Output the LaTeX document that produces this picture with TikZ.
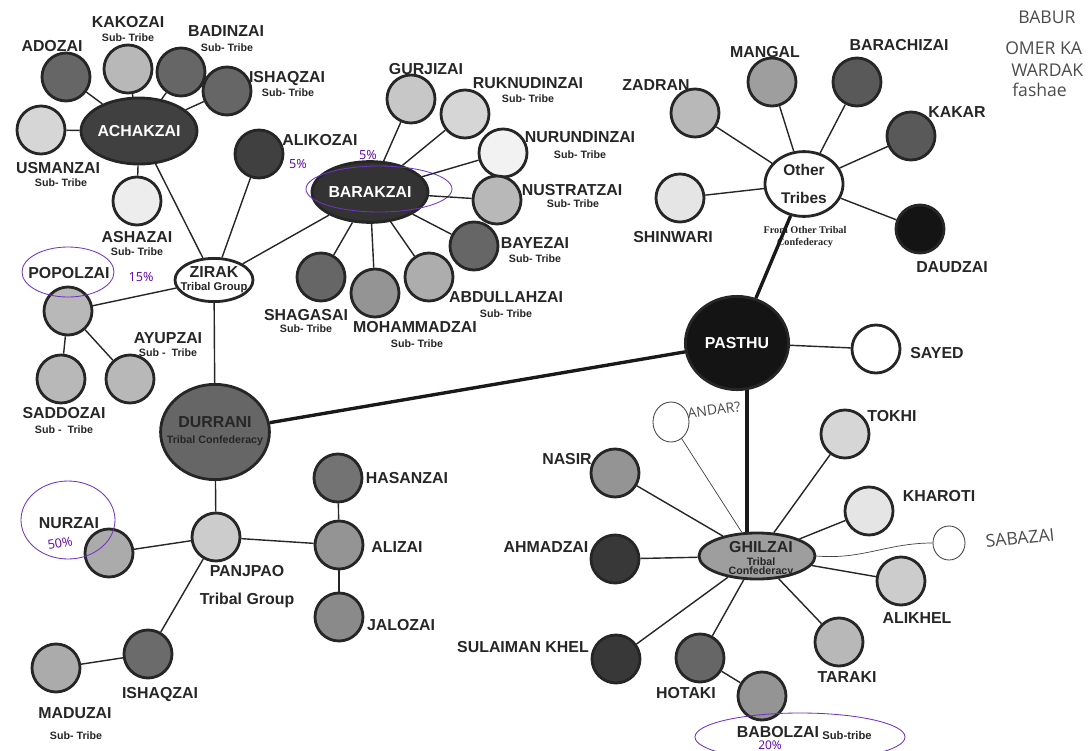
\documentclass[tikz,border=0pt]{standalone}
\usepackage{fontspec}
\setmainfont{Liberation Sans}
\newfontfamily\serfont{Liberation Serif}
\newfontfamily\penfont{Open Sans}
\usetikzlibrary{shapes}
\usetikzlibrary{shapes.geometric}
\tikzset{
    tribe/.style = {circle, line width=2pt, draw=black!85, inner sep=0pt, minimum size=1.2cm},
    tribew/.style = {tribe, fill=white},
    tribex/.style = {tribe, fill=black!7},
    tribel/.style = {tribe, fill=black!16},
    tribeg/.style = {tribe, fill=black!28},
    tribem/.style = {tribe, fill=black!42},
    tribed/.style = {tribe, fill=black!60},
    tribev/.style = {tribe, fill=black!75},
    tribek/.style = {tribe, fill=black!92},
    tname/.style = {font=\bfseries\fontsize{11.3}{13}\selectfont, text=black!85, inner sep=0pt},
    tnamew/.style = {tname, text=white},
    tsub/.style = {font=\bfseries\fontsize{7.6}{9}\selectfont, text=black!85, inner sep=0pt},
    tconf/.style = {font=\serfont\bfseries\fontsize{7.3}{9}\selectfont, text=black!85, inner sep=0pt},
    edgen/.style = {-, line width=1pt, black!85},
    edget/.style = {-, line width=2.4pt, black!90},
    edgeh/.style = {-, line width=0.5pt, black!75}, % pencilled in
    handc/.style = {ellipse, line width=0.6pt, draw=black!75, fill=white, inner sep=0pt},
    handtxt/.style = {font=\penfont\fontsize{12.5}{14}\selectfont, text=black!70, inner sep=0pt},
    pentxt/.style = {font=\penfont\fontsize{9}{10}\selectfont, text=violet!70!blue, inner sep=0pt},
    penline/.style = {line width=0.6pt, violet!60!blue!80}
}

\begin{document}
\begin{tikzpicture}[x=0.025cm, y=-0.025cm]
\useasboundingbox (0,0) rectangle (1088,751);

% Achakzai
\node[tribev, ellipse, minimum width=2.9cm, minimum height=1.65cm] at (139,131) (achakzai) {};
\node[tnamew] at (139,131) (achakzaitxt) {ACHAKZAI};
\node[tribed] at (66,77) (adozai) {};
\node[tribeg] at (128,69) (kakozai) {};
\node[tribed] at (181,72) (badinzai) {};
\node[tribed] at (227,91) (ishaqzai) {};
\node[tribel] at (41,130) (usmanzai) {};
\node[tribex] at (137,201) (ashazai) {};
\node[tname] at (52,46) (adozaitxt) {ADOZAI};
\node[tname] at (128,22) (kakozaitxt) {KAKOZAI};
\node[tsub] at (128,38) (kakozaisub) {Sub- Tribe};
\node[tname] at (226,31) (badinzaitxt) {BADINZAI};
\node[tsub] at (227,48) (badinzaisub) {Sub- Tribe};
\node[tname] at (287,79) (ishaqzaitxt) {ISHAQZAI};
\node[tsub] at (288,93) (ishaqzaisub) {Sub- Tribe};
\node[tname] at (58,168) (usmanzaitxt) {USMANZAI};
\node[tsub] at (61,183) (usmanzaisub) {Sub- Tribe};
\node[tname] at (137,237) (ashazaitxt) {ASHAZAI};
\node[tsub] at (137,252) (ashazaisub) {Sub- Tribe};

% Zirak
\node[tribew, ellipse, minimum width=1.95cm, minimum height=1.08cm] at (214,280) (zirak) {};
\node[tname] at (214,272) (ziraktxt) {ZIRAK};
\node[tsub, font=\bfseries\fontsize{8}{9}\selectfont] at (214,288) (ziraksub) {Tribal Group};
\node[tribev] at (259,154) (alikozai) {};
\node[tname] at (320,140) (alikozaitxt) {ALIKOZAI};
\node[tribeg] at (68,311) (popolzai) {};
\node[tribeg] at (61,379) (saddozai) {};
\node[tribeg] at (130,379) (ayupzai) {};
\node[tname] at (69,273) (popolzaitxt) {POPOLZAI};
\node[tname] at (64,413) (saddozaitxt) {SADDOZAI};
\node[tsub] at (64,430) (saddozaisub) {Sub -\ \ Tribe};
\node[tname] at (168,338) (ayupzaitxt) {AYUPZAI};
\node[tsub] at (168,353) (ayupzaisub) {Sub -\ \ Tribe};

% Barakzai
\node[tribek, fill=black!80, ellipse, minimum width=2.9cm, minimum height=1.52cm] at (370,192) (barakzai) {};
\node[tnamew] at (370,192) (barakzaitxt) {BARAKZAI};
\node[tribeg, fill=black!22] at (411,99) (gurjizai) {};
\node[tribel] at (465,114) (ruknudinzai) {};
\node[tribew, fill=black!5] at (503,153) (nurundinzai) {};
\node[tribeg] at (497,200) (nustratzai) {};
\node[tribed] at (474,246) (bayezai) {};
\node[tribeg, fill=black!32] at (429,277) (abdullahzai) {};
\node[tribem] at (375,293) (mohammadzai) {};
\node[tribed] at (321,277) (shagasai) {};
\node[tname] at (426,69) (gurjizaitxt) {GURJIZAI};
\node[tname] at (528,83) (ruknudinzaitxt) {RUKNUDINZAI};
\node[tsub] at (528,99) (ruknudinzaisub) {Sub- Tribe};
\node[tname] at (580,137) (nurundinzaitxt) {NURUNDINZAI};
\node[tsub] at (580,155) (nurundinzaisub) {Sub- Tribe};
\node[tname] at (572,190) (nustratzaitxt) {NUSTRATZAI};
\node[tsub] at (573,204) (nustratzaisub) {Sub- Tribe};
\node[tname] at (535,243) (bayezaitxt) {BAYEZAI};
\node[tsub] at (535,259) (bayezaisub) {Sub- Tribe};
\node[tname] at (506,297) (abdullahzaitxt) {ABDULLAHZAI};
\node[tsub] at (506,314) (abdullahzaisub) {Sub- Tribe};
\node[tname] at (415,327) (mohammadzaitxt) {MOHAMMADZAI};
\node[tsub] at (417,344) (mohammadzaisub) {Sub- Tribe};
\node[tname] at (306,315) (shagasaitxt) {SHAGASAI};
\node[tsub] at (306,329) (shagasaisub) {Sub- Tribe};

% Durrani and Panjpao
\node[tribed, ellipse, minimum width=2.72cm, minimum height=2.38cm] at (215,432) (durrani) {};
\node[tname] at (215,422) (durranitxt) {DURRANI};
\node[tsub] at (215,441) (durranisub) {Tribal Confederacy};
\node[tribel, fill=black!20] at (216,537) (panjpao) {};
\node[tname] at (247,571) (panjpaotxt) {PANJPAO};
\node[tname] at (247,600) (panjpaosub) {Tribal Group};
\node[tribeg, fill=black!33] at (109,553) (nurzai) {};
\node[tname] at (69,523) (nurzaitxt) {NURZAI};
\node[tribed, fill=black!55] at (338,478) (hasanzai) {};
\node[tribem] at (339,545) (alizai) {};
\node[tribem, fill=black!46] at (339,617) (jalozai) {};
\node[tname] at (407,478) (hasanzaitxt) {HASANZAI};
\node[tname] at (397,547) (alizaitxt) {ALIZAI};
\node[tname] at (401,625) (jalozaitxt) {JALOZAI};
\node[tribed, fill=black!58] at (148,654) (ishaqzaii) {};
\node[tname] at (160,695) (ishaqzaiitxt) {ISHAQZAI};
\node[tribeg, fill=black!33] at (56,668) (maduzai) {};
\node[tname] at (75,713) (maduzaitxt) {MADUZAI};
\node[tsub] at (76,736) (maduzaisub) {Sub- Tribe};

% Pasthu and other tribes
\node[tribek, ellipse, minimum width=2.58cm, minimum height=2.33cm] at (737,343) (pasthu) {};
\node[tnamew] at (737,343) (pasthutxt) {PASTHU};
\node[tribew] at (876,349) (sayed) {};
\node[tname] at (937,353) (sayedtxt) {SAYED};
\node[tribew, ellipse, minimum width=1.95cm, minimum height=1.62cm] at (804,184) (othertribes) {};
\node[tname, font=\bfseries\fontsize{11}{13}\selectfont] at (804,170) (othertxt) {Other};
\node[tname, font=\bfseries\fontsize{11}{13}\selectfont] at (804,198) (tribestxt) {Tribes};
\node[tconf] at (805,230) (othersub) {From Other Tribal};
\node[tconf] at (805,243) (othersubb) {Confederacy};
\node[tribeg] at (695,113) (zadran) {};
\node[tribem, fill=black!38] at (772,82) (mangal) {};
\node[tribed, fill=black!65] at (857,82) (barachizai) {};
\node[tribed, fill=black!65] at (911,136) (kakar) {};
\node[tribex, fill=black!10] at (680,198) (shinwari) {};
\node[tribek] at (920,229) (daudzai) {};
\node[tname] at (656,85) (zadrantxt) {ZADRAN};
\node[tname] at (765,52) (mangaltxt) {MANGAL};
\node[tname] at (899,45) (barachizaitxt) {BARACHIZAI};
\node[tname] at (957,112) (kakartxt) {KAKAR};
\node[tname] at (673,237) (shinwaritxt) {SHINWARI};
\node[tname] at (952,267) (daudzaitxt) {DAUDZAI};

% Ghilzai
\node[tribem, fill=black!38, ellipse, minimum width=2.9cm, minimum height=1.15cm] at (757,556) (ghilzai) {};
\node[tname] at (761,547) (ghilzaitxt) {GHILZAI};
\node[tsub] at (761,562) (ghilzaisub) {Tribal};
\node[tsub] at (761,572) (ghilzaisubb) {Confederacy};
\node[tribem] at (615,473) (nasir) {};
\node[tribel] at (845,434) (tokhi) {};
\node[tribex, fill=black!10] at (869,511) (kharoti) {};
\node[tribev, fill=black!78] at (615,559) (ahmadzai) {};
\node[tribel, fill=black!20] at (901,581) (alikhel) {};
\node[tribev, fill=black!78] at (616,659) (sulaimankhel) {};
\node[tribed] at (700,658) (hotaki) {};
\node[tribem] at (762,696) (babolzai) {};
\node[tribeg] at (839,642) (taraki) {};
\node[tname] at (567,459) (nasirtxt) {NASIR};
\node[tname] at (892,416) (tokhitxt) {TOKHI};
\node[tname] at (939,496) (kharotitxt) {KHAROTI};
\node[tname] at (546,547) (ahmadzaitxt) {AHMADZAI};
\node[tname] at (917,618) (alikheltxt) {ALIKHEL};
\node[tname] at (523,647) (sulaimankheltxt) {SULAIMAN KHEL};
\node[tname] at (686,693) (hotakitxt) {HOTAKI};
\node[tname] at (778,732) (babolzaitxt) {BABOLZAI};
\node[tsub, font=\bfseries\fontsize{8}{9}\selectfont] at (847,735) (babolzaisub) {Sub-tribe};
\node[tname] at (847,677) (tarakitxt) {TARAKI};

% pencilled additions
\node[handc, minimum width=0.9cm, minimum height=1cm] at (671,422) (andar) {};
\node[handtxt, font=\penfont\fontsize{10}{12}\selectfont, rotate=8] at (714,410) (andartxt) {ANDAR?};
\node[handc, minimum width=0.8cm, minimum height=0.85cm] at (949,543) (sabazai) {};
\node[handtxt, rotate=6] at (1020,538) (sabazaitxt) {SABAZAI};
\node[handtxt, anchor=west] at (1018,17) (baburtxt) {BABUR};
\node[handtxt, anchor=west] at (1005,48) (omertxt) {OMER KA};
\node[handtxt, anchor=west] at (1011,70) (wardaktxt) {WARDAK};
\node[handtxt, anchor=west] at (1012,90) (fashaetxt) {fashae};
\node[pentxt] at (298,164) (alikozaipc) {5\%};
\node[pentxt] at (368,155) (barakzaipc) {5\%};
\node[pentxt] at (141,277) (popolzaipc) {15\%};
\node[pentxt, rotate=10] at (60,543) (nurzaipc) {50\%};
\node[pentxt, font=\penfont\fontsize{8.5}{10}\selectfont] at (770,745) (babolzaipc) {20\%};
\draw[penline] (379,189) ellipse (73 and 23);
\draw[penline] (68,272) ellipse (46 and 25);
\draw[penline] (68,520) ellipse (47 and 39);
\draw[penline] (800,737) ellipse (105 and 24);

% links
\draw[edgen] (achakzai) -- (adozai);
\draw[edgen] (achakzai) -- (kakozai);
\draw[edgen] (achakzai) -- (badinzai);
\draw[edgen] (achakzai) -- (ishaqzai);
\draw[edgen] (achakzai) -- (usmanzai);
\draw[edgen] (achakzai) -- (ashazai);
\draw[edgen] (achakzai) -- (zirak);
\draw[edgen] (zirak) -- (alikozai);
\draw[edgen] (zirak) -- (barakzai);
\draw[edgen] (zirak) -- (popolzai);
\draw[edgen] (zirak) -- (durrani);
\draw[edgen] (popolzai) -- (saddozai);
\draw[edgen] (popolzai) -- (ayupzai);
\draw[edgen] (barakzai) -- (gurjizai);
\draw[edgen] (barakzai) -- (ruknudinzai);
\draw[edgen] (barakzai) -- (nurundinzai);
\draw[edgen] (barakzai) -- (nustratzai);
\draw[edgen] (barakzai) -- (bayezai);
\draw[edgen] (barakzai) -- (abdullahzai);
\draw[edgen] (barakzai) -- (mohammadzai);
\draw[edgen] (barakzai) -- (shagasai);
\draw[edgen] (durrani) -- (panjpao);
\draw[edgen] (panjpao) -- (nurzai);
\draw[edgen] (panjpao) -- (alizai);
\draw[edgen] (panjpao) -- (ishaqzaii);
\draw[edgen] (alizai) -- (hasanzai);
\draw[edgen] (alizai) -- (jalozai);
\draw[edgen] (ishaqzaii) -- (maduzai);
\draw[edget] (durrani) -- (pasthu);
\draw[edget] (pasthu) -- (othertribes);
\draw[edget] (pasthu.-78) -- (pasthu.-78 |- ghilzai.north);
\draw[edgen] (pasthu) -- (sayed);
\draw[edgen] (othertribes) -- (zadran);
\draw[edgen] (othertribes) -- (mangal);
\draw[edgen] (othertribes) -- (barachizai);
\draw[edgen] (othertribes) -- (kakar);
\draw[edgen] (othertribes) -- (shinwari);
\draw[edgen] (othertribes) -- (daudzai);
\draw[edgen] (ghilzai) -- (nasir);
\draw[edgen] (ghilzai) -- (tokhi);
\draw[edgen] (ghilzai) -- (kharoti);
\draw[edgen] (ghilzai) -- (ahmadzai);
\draw[edgen] (ghilzai) -- (alikhel);
\draw[edgen] (ghilzai) -- (sulaimankhel);
\draw[edgen] (ghilzai) -- (hotaki);
\draw[edgen] (ghilzai) -- (taraki);
\draw[edgen] (hotaki) -- (babolzai);
\draw[edgeh] (ghilzai) -- (andar);
\draw[edgeh] (ghilzai.east) to[out=-5, in=180] (sabazai.west);
\end{tikzpicture}
\end{document}
